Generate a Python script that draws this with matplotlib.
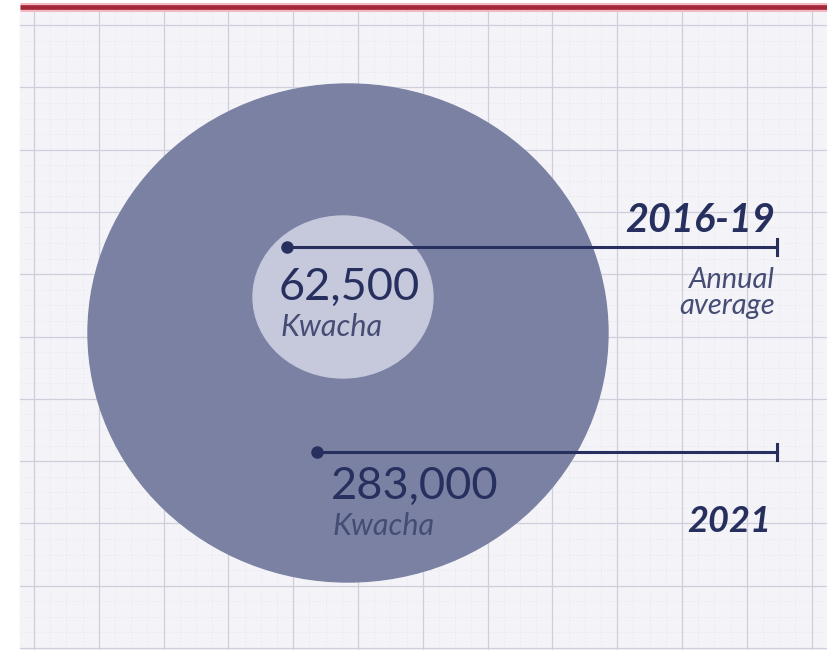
import numpy as np
import matplotlib.pyplot as plt
from matplotlib.patches import Ellipse, Rectangle

# values shown on the chart
periods = ["2016-19", "2021"]
period_notes = ["Annual\naverage", ""]
amounts = [62500, 283000]
unit = "Kwacha"

navy = "#262f5e"
soft = "#464d75"
outer_col = "#7a81a2"
inner_col = "#c6c9dc"
paper = "#f3f3f8"
grid_col = "#cfcfdc"

plt.rcParams['font.family'] = ['Lato', 'DejaVu Sans']

fig = plt.figure(figsize=(8.27, 6.5), dpi=100)
ax = fig.add_axes([0, 0, 1, 1])
ax.set_xlim(0, 827)
ax.set_ylim(650, 0)
ax.axis('off')

# graph paper background
ax.add_patch(Rectangle((20, 12), 807, 640, color=paper, zorder=0))
for gx in np.arange(34, 820, 64.8):
    ax.plot([gx, gx], [12, 650], color=grid_col, lw=0.9, zorder=1)
    for k in (1, 2, 3):
        ax.plot([gx + 16.2 * k] * 2, [12, 650], color=grid_col, lw=0.5,
                ls=(0, (2, 3)), alpha=0.4, zorder=1)
for gy in np.arange(25, 652, 62.3):
    ax.plot([20, 827], [gy, gy], color=grid_col, lw=0.9, zorder=1)
    for k in (1, 2, 3):
        ax.plot([20, 827], [gy + 15.6 * k] * 2, color=grid_col, lw=0.5,
                ls=(0, (2, 3)), alpha=0.4, zorder=1)

# red rule on top
ax.plot([20, 827], [7, 7], color="#f3b9c0", lw=6.5, solid_capstyle='butt', zorder=2)
ax.plot([20, 827], [7, 7], color="#a3283a", lw=3.4, solid_capstyle='butt', zorder=3)

# circles: small = 2016-19 average, big = 2021
ax.add_patch(Ellipse((348, 333), 520, 498, color=outer_col, zorder=4))
ax.add_patch(Ellipse((343, 297), 180, 162, color=inner_col, zorder=5))

# leader lines with dots and end ticks
dots = [(287, 247), (317, 452)]
x_end = 777
for (dx, dy) in dots:
    ax.plot([dx, x_end], [dy, dy], color=navy, lw=2.2, zorder=6)
    ax.plot([dx], [dy], 'o', color=navy, ms=8, zorder=7)
    ax.plot([x_end, x_end], [dy - 8, dy + 8], color=navy, lw=2.2, zorder=6)

# amounts
amount_pos = [(279, 287), (331, 486)]
for (tx, ty), val in zip(amount_pos, amounts):
    ax.text(tx, ty, f"{val:,}", fontsize=32.5, color=navy, ha='left',
            va='center', zorder=8)
    ax.text(tx + 2, ty + 40, unit, fontsize=22, color=soft, style='italic',
            ha='left', va='center', zorder=8)

# period labels
ax.text(775, 221, periods[0], fontsize=28.5, color=navy, style='italic',
        fontweight='bold', ha='right', va='center', zorder=8)
ax.text(775, 293, period_notes[0], fontsize=21, color=soft, style='italic',
        ha='right', va='center', linespacing=1.0, zorder=8)
ax.text(771, 522, periods[1], fontsize=26, color=navy, style='italic',
        fontweight='bold', ha='right', va='center', zorder=8)

fig.savefig("out.png", dpi=100)
